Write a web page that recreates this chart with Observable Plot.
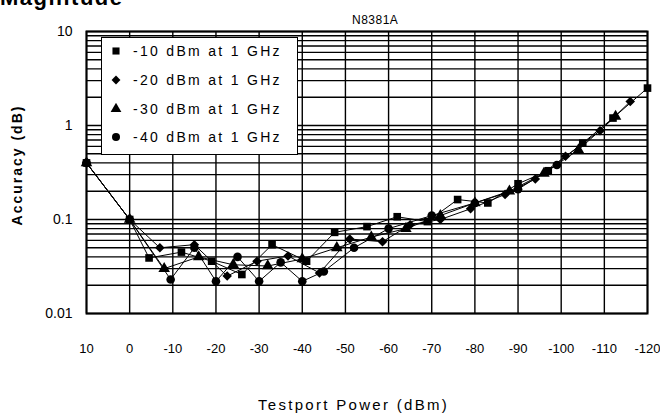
<!DOCTYPE html>
<html><head><meta charset="utf-8">
<script src="https://cdn.jsdelivr.net/npm/d3@7"></script>
<script src="https://cdn.jsdelivr.net/npm/@observablehq/plot@0.6"></script>
<style>
body{margin:0;background:#fff;font-family:"Liberation Sans",Arial,sans-serif;}
#wrap{position:relative;width:660px;height:420px;overflow:hidden;background:#fff;}
.t{position:absolute;white-space:nowrap;color:#000;line-height:1;}
#legend{position:absolute;left:101px;top:37px;width:195px;height:116px;border:1.5px solid #000;background:#fff;}
.row{position:absolute;left:0;height:20px;display:flex;align-items:center;font-size:14px;letter-spacing:2.3px;}
.row svg{margin-left:8px;margin-right:11px;}
</style></head><body>
<div id="wrap"></div>
<script>
// Series names (legend labels)
const seriesNames = ["-10 dBm at 1 GHz", "-20 dBm at 1 GHz", "-30 dBm at 1 GHz", "-40 dBm at 1 GHz"];
const seriesSymbols = ["square", "diamond2", "triangle", "circle"];

// Testport power (dBm) and accuracy (dB) per series
const p10x = [10, 0, -4.5, -12, -19, -26, -33, -41, -47.5, -55, -62, -69, -76, -83, -90, -97, -105, -112, -120];
const p10y = [0.4, 0.1, 0.039, 0.045, 0.036, 0.026, 0.054, 0.036, 0.073, 0.084, 0.107, 0.095, 0.163, 0.15, 0.24, 0.33, 0.65, 1.2, 2.5];

const p20x = [10, 0, -7, -15, -22.6, -29.5, -36.7, -44, -51, -58.6, -65, -72, -79, -87, -94, -101, -109, -116];
const p20y = [0.4, 0.1, 0.05, 0.054, 0.025, 0.036, 0.041, 0.027, 0.062, 0.058, 0.088, 0.1, 0.13, 0.185, 0.27, 0.47, 0.88, 1.8];

const p30x = [10, 0, -8, -16, -24, -32, -40, -48, -56, -64, -72, -80, -88, -96, -104, -112.6];
const p30y = [0.4, 0.1, 0.03, 0.04, 0.033, 0.032, 0.038, 0.05, 0.065, 0.08, 0.11, 0.15, 0.2, 0.31, 0.55, 1.25];

const p40x = [10, 0, -9.5, -15, -20, -25, -30, -35, -40, -45, -52, -60, -70, -80, -90, -99];
const p40y = [0.4, 0.1, 0.023, 0.05, 0.022, 0.04, 0.022, 0.035, 0.022, 0.028, 0.05, 0.08, 0.11, 0.15, 0.21, 0.38];

// Ticks
const xTicks = [10, 0, -10, -20, -30, -40, -50, -60, -70, -80, -90, -100, -110, -120];
const yTicks = [0.01, 0.1, 1, 10];
const yTickLabels = ["0.01", "0.1", "1", "10"];
const yGrid = [0.01,0.02,0.03,0.04,0.05,0.06,0.07,0.08,0.09,
               0.1,0.2,0.3,0.4,0.5,0.6,0.7,0.8,0.9,
               1,2,3,4,5,6,7,8,9,10];

const allX = [p10x, p20x, p30x, p40x];
const allY = [p10y, p20y, p30y, p40y];
const rows = [];
allX.forEach((xs, i) => xs.forEach((x, j) => rows.push({series: seriesNames[i], x, y: allY[i][j]})));

const chart = Plot.plot({
  width: 660, height: 420,
  marginLeft: 86, marginRight: 13, marginTop: 31, marginBottom: 107,
  style: {fontFamily: '"Liberation Sans", Arial, sans-serif', background: "#fff", color: "#000"},
  x: {type: "linear", domain: [10, -120], label: null},
  y: {type: "log", domain: [0.01, 10], label: null},
  symbol: {domain: seriesNames, range: seriesSymbols},
  marks: [
    Plot.ruleY(yGrid, {stroke: "#000", strokeWidth: 1.4}),
    Plot.ruleX(xTicks, {stroke: "#000", strokeWidth: 1.4}),
    Plot.frame({stroke: "#000", strokeWidth: 2}),
    Plot.axisX({ticks: xTicks, tickFormat: d => String(d), tickSize: 0, tickPadding: 30, fontSize: 13, label: null}),
    Plot.axisY({ticks: yTicks, tickFormat: d => yTickLabels[yTicks.indexOf(d)], tickSize: 0, tickPadding: 14, fontSize: 14, label: null}),
    Plot.line(rows, {x: "x", y: "y", z: "series", stroke: "#000", strokeWidth: 1}),
    Plot.dot(rows, {x: "x", y: "y", symbol: "series", fill: "#000", stroke: "none", r: 4.3})
  ]
});
chart.style.position = "absolute";
chart.style.left = "0px";
chart.style.top = "0px";
const wrap = document.getElementById("wrap");
wrap.appendChild(chart);

function addText(txt, css) {
  const d = document.createElement("div");
  d.className = "t";
  d.textContent = txt;
  Object.assign(d.style, css);
  wrap.appendChild(d);
  return d;
}
addText("Magnitude", {left: "0px", top: "-13px", fontSize: "22px", fontWeight: "bold", letterSpacing: "1.5px"});
addText("N8381A", {left: "352px", top: "14px", fontSize: "12px", letterSpacing: "0.5px"});
addText("Testport Power (dBm)", {left: "258px", top: "397px", fontSize: "15px", letterSpacing: "2.3px"});
addText("Accuracy (dB)", {left: "-53px", top: "158px", fontSize: "14px", fontWeight: "bold", letterSpacing: "2px", width: "140px", textAlign: "center", transform: "rotate(-90deg)"});

// Legend
const legend = document.createElement("div");
legend.id = "legend";
wrap.appendChild(legend);
const rowTops = [3, 32, 61, 89];
seriesNames.forEach((name, i) => {
  const r = document.createElement("div");
  r.className = "row";
  r.style.top = rowTops[i] + "px";
  const sym = {square: d3.symbolSquare, diamond2: d3.symbolDiamond2, triangle: d3.symbolTriangle, circle: d3.symbolCircle}[seriesSymbols[i]];
  const path = d3.symbol(sym, Math.PI * 16)();
  r.innerHTML = `<svg width="12" height="12" viewBox="-6 -6 12 12"><path d="${path}" fill="#000"/></svg><span>${name}</span>`;
  legend.appendChild(r);
});
</script>
</body></html>
